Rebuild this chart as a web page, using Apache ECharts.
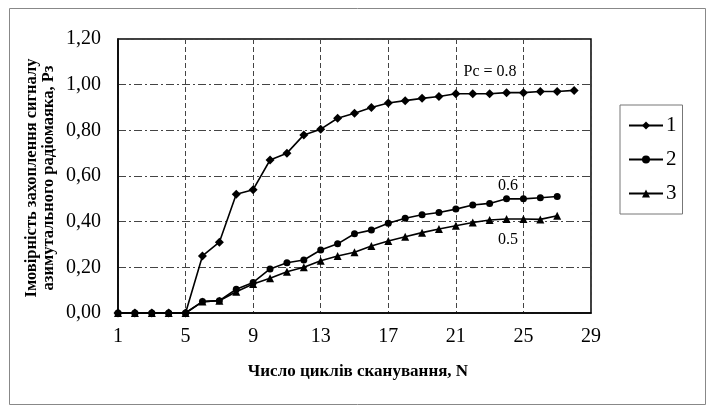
<!DOCTYPE html>
<html>
<head>
<meta charset="utf-8">
<script src="https://cdn.jsdelivr.net/npm/echarts@6/dist/echarts.min.js"></script>
<style>
html,body{margin:0;padding:0;background:#fff;}
#chart{width:710px;height:407px;}
</style>
</head>
<body>
<div id="chart"></div>
<script>
const categories = ['1','2','3','4','5','6','7','8','9','10','11','12','13','14','15','16','17','18','19','20','21','22','23','24','25','26','27','28','29'];
const series1 = [0,0,0,0,0,0.25,0.31,0.52,0.54,0.67,0.70,0.78,0.805,0.853,0.875,0.90,0.92,0.93,0.94,0.948,0.96,0.96,0.96,0.965,0.965,0.97,0.97,0.975];
const series2 = [0,0,0,0,0,0.05,0.054,0.104,0.134,0.193,0.22,0.232,0.276,0.303,0.347,0.363,0.393,0.415,0.43,0.44,0.455,0.473,0.48,0.50,0.50,0.505,0.51];
const series3 = [0,0,0,0,0,0.05,0.054,0.093,0.127,0.152,0.181,0.20,0.229,0.25,0.266,0.293,0.315,0.334,0.352,0.368,0.382,0.396,0.407,0.412,0.412,0.41,0.426];
const seriesNames = ['1','2','3'];
const annotations = ['Pc = 0.8','0.6','0.5'];
const yTitle = 'Імовірність захоплення сигналу\nазимутального радіомаяка, Рз';
const xTitle = 'Число циклів сканування, N';

const serif = '"Liberation Serif", "DejaVu Serif", serif';
const chart = echarts.init(document.getElementById('chart'));
const lineStyle = {color:'#000', width:1.6};
function mk(name, data, symbol, size){
  return {name, type:'line', data, symbol, symbolSize:size, showAllSymbol:true,
    itemStyle:{color:'#000'}, lineStyle, animation:false};
}
chart.setOption({
  backgroundColor:'#fff',
  animation:false,
  grid:{left:118, right:119, top:39, bottom:94, show:true, borderColor:'#000', borderWidth:1.5},
  xAxis:{type:'category', data:categories, boundaryGap:false,
    axisLine:{lineStyle:{color:'#000', width:1.5}},
    axisTick:{show:false},
    axisLabel:{interval:3, color:'#000', fontFamily:serif, fontSize:20, margin:14},
    splitLine:{show:true, interval:3, lineStyle:{color:'#444', type:[5,3], width:1}}
  },
  yAxis:{type:'value', min:0, max:1.2, interval:0.2,
    axisLine:{show:true, lineStyle:{color:'#000', width:1.5}},
    axisTick:{show:false},
    axisLabel:{color:'#000', fontFamily:serif, fontSize:20, margin:17,
      formatter:v=>v.toFixed(2).replace('.',',')},
    splitLine:{show:true, lineStyle:{color:'#444', type:[8,3,2,3], width:1}}
  },
  legend:{orient:'vertical', left:620, top:105, width:67,
    padding:[10,6,10,8], itemGap:13, itemWidth:34, itemHeight:10,
    borderColor:'#777', borderWidth:1,
    textStyle:{fontFamily:serif, fontSize:21, color:'#000', padding:[0,0,0,-2]},
    data:seriesNames},
  series:[
    mk(seriesNames[0], series1, 'diamond', 9),
    mk(seriesNames[1], series2, 'circle', 7),
    mk(seriesNames[2], series3, 'triangle', 8)
  ],
  graphic:[
    {type:'rect', left:7, top:6, shape:{width:696, height:396},
      style:{fill:'none', stroke:'#888', lineWidth:1}},
    {type:'text', x:40, y:178, rotation:Math.PI/2, style:{text:yTitle, fontFamily:serif, fontWeight:'bold',
      fontSize:16.5, fill:'#000', align:'center', verticalAlign:'middle', lineHeight:17}},
    {type:'text', x:358, y:372, style:{text:xTitle, fontFamily:serif, fontWeight:'bold',
      fontSize:17, fill:'#000', align:'center', verticalAlign:'middle'}},
    {type:'text', x:490, y:72, style:{text:annotations[0], fontFamily:serif, fontSize:16, fill:'#000', align:'center', verticalAlign:'middle'}},
    {type:'text', x:508, y:186, style:{text:annotations[1], fontFamily:serif, fontSize:16, fill:'#000', align:'center', verticalAlign:'middle'}},
    {type:'text', x:508, y:240, style:{text:annotations[2], fontFamily:serif, fontSize:16, fill:'#000', align:'center', verticalAlign:'middle'}}
  ]
});
</script>
</body>
</html>
